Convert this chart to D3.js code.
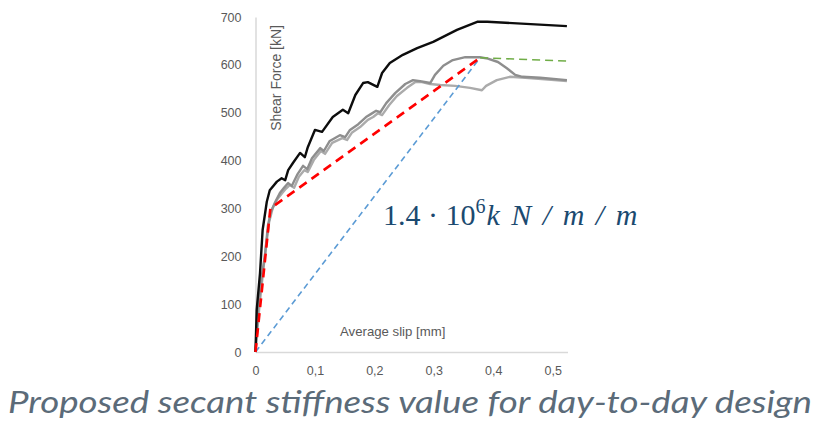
<!DOCTYPE html>
<html>
<head>
<meta charset="utf-8">
<script src="https://cdn.jsdelivr.net/npm/d3@7"></script>
<style>
  html, body { margin: 0; padding: 0; background: #fff; }
  svg { display: block; }
</style>
</head>
<body>
<svg id="chart" width="818" height="434"></svg>
<script>
// Average slip [mm] vs shear force [kN] for three push-out specimens
const specimenBlack = [
  [0, 0], [0.002, 88], [0.0076, 165], [0.012, 255], [0.019, 314], [0.024, 338],
  [0.036, 356], [0.044, 363], [0.050, 359], [0.055, 380], [0.063, 395], [0.075, 416],
  [0.083, 407], [0.088, 428], [0.100, 464], [0.112, 460], [0.130, 491], [0.147, 506],
  [0.156, 499], [0.168, 537], [0.181, 562], [0.189, 564], [0.205, 554], [0.213, 583],
  [0.226, 604], [0.248, 621], [0.272, 635], [0.299, 648], [0.339, 673], [0.373, 690],
  [0.390, 690], [0.524, 681]
];
const specimenGrayA = [
  [0, 0], [0.004, 88], [0.011, 161], [0.016, 203], [0.021, 265], [0.026, 293],
  [0.033, 313], [0.041, 332], [0.048, 343], [0.055, 353], [0.061, 347], [0.070, 370],
  [0.080, 389], [0.087, 382], [0.095, 405], [0.109, 426], [0.115, 420], [0.125, 441],
  [0.142, 453], [0.151, 449], [0.159, 464], [0.173, 476], [0.186, 491], [0.194, 497],
  [0.203, 504], [0.210, 501], [0.220, 520], [0.235, 541], [0.252, 560], [0.265, 568],
  [0.277, 566], [0.294, 562], [0.302, 579], [0.316, 598], [0.332, 610], [0.353, 616],
  [0.378, 616], [0.391, 613], [0.408, 606], [0.423, 593], [0.437, 579], [0.449, 575],
  [0.479, 573], [0.524, 568]
];
const specimenGrayB = [
  [0, 0], [0.006, 88], [0.013, 171], [0.018, 224], [0.023, 272], [0.029, 301],
  [0.036, 318], [0.045, 332], [0.051, 341], [0.058, 349], [0.065, 343], [0.073, 366],
  [0.082, 380], [0.088, 376], [0.098, 401], [0.110, 420], [0.117, 414], [0.129, 437],
  [0.146, 447], [0.154, 443], [0.162, 458], [0.176, 470], [0.189, 485], [0.198, 491],
  [0.206, 499], [0.213, 495], [0.225, 516], [0.238, 535], [0.255, 552], [0.269, 564],
  [0.280, 564], [0.294, 560], [0.311, 558], [0.336, 556], [0.361, 552], [0.381, 547],
  [0.388, 556], [0.406, 568], [0.428, 575], [0.454, 573], [0.487, 570], [0.524, 566]
];
// Idealised stiffness lines
const bilinearLine = [[0, 0], [0.025, 300], [0.378, 615]];
const secantLine = [[0, 0], [0.378, 615]];
const plateauLine = [[0.378, 615], [0.524, 608]];

const xTicks = [0, 0.1, 0.2, 0.3, 0.4, 0.5];
const yTicks = [0, 100, 200, 300, 400, 500, 600, 700];
const xTitle = "Average slip [mm]";
const yTitle = "Shear Force [kN]";
const stiffnessLabel = ["1.4 · 10", "6", "k N/m/m"];
const caption = "Proposed secant stiffness value for day-to-day design";

const svg = d3.select("#chart");
const x = d3.scaleLinear().domain([0, 0.525]).range([255.5, 567.5]);
const y = d3.scaleLinear().domain([0, 700]).range([352, 17]);

const axisColor = "#d9d9d9";
const tickColor = "#595959";

// Axes
const xAxis = svg.append("g").attr("transform", `translate(0,${y(0)})`)
  .call(d3.axisBottom(x).tickValues(xTicks).tickSize(0).tickPadding(14)
    .tickFormat(d => d === 0 ? "0" : d3.format(".1f")(d).replace(".", ",")));
const yAxis = svg.append("g").attr("transform", `translate(${x(0)},0)`)
  .call(d3.axisLeft(y).tickValues(yTicks).tickSize(0).tickPadding(14));
[xAxis, yAxis].forEach(g => {
  g.select(".domain").attr("stroke", axisColor).attr("stroke-width", 1.5);
  g.selectAll("text").attr("fill", tickColor)
    .style("font-family", "'Liberation Sans', Arial, sans-serif").style("font-size", "12.5px");
});

// Axis titles inside the plot
svg.append("text")
  .attr("x", 340).attr("y", 336)
  .attr("fill", tickColor)
  .style("font-family", "'Liberation Sans', Arial, sans-serif").style("font-size", "13.2px")
  .text(xTitle);
svg.append("text")
  .attr("transform", "translate(281,25) rotate(-90)")
  .attr("text-anchor", "end")
  .attr("fill", tickColor)
  .style("font-family", "'Liberation Sans', Arial, sans-serif").style("font-size", "14px")
  .text(yTitle);

const line = d3.line().x(d => x(d[0])).y(d => y(d[1]));

// Test curves
svg.append("path").datum(specimenGrayB).attr("d", line)
  .attr("fill", "none").attr("stroke", "#ababab").attr("stroke-width", 2.4).attr("stroke-linejoin", "round");
svg.append("path").datum(specimenGrayA).attr("d", line)
  .attr("fill", "none").attr("stroke", "#8e8e8e").attr("stroke-width", 2.4).attr("stroke-linejoin", "round");
svg.append("path").datum(specimenBlack).attr("d", line)
  .attr("fill", "none").attr("stroke", "#0d0d0d").attr("stroke-width", 2.4).attr("stroke-linejoin", "round");

// Stiffness idealisations
svg.append("path").datum(secantLine).attr("d", line)
  .attr("fill", "none").attr("stroke", "#5b9bd5").attr("stroke-width", 1.6).attr("stroke-dasharray", "6,4");
svg.append("path").datum(plateauLine).attr("d", line)
  .attr("fill", "none").attr("stroke", "#70ad47").attr("stroke-width", 1.6).attr("stroke-dasharray", "8,5");
svg.append("path").datum(bilinearLine).attr("d", line)
  .attr("fill", "none").attr("stroke", "#ff0000").attr("stroke-width", 2.6).attr("stroke-dasharray", "9,6");

// Stiffness value
const lbl = svg.append("text")
  .attr("x", 383).attr("y", 225)
  .attr("fill", "#1b4a70")
  .style("font-family", "'Liberation Serif', 'DejaVu Serif', serif").style("font-size", "30px");
lbl.append("tspan").text(stiffnessLabel[0]);
lbl.append("tspan").attr("dy", -12).style("font-size", "20px").text(stiffnessLabel[1]);
lbl.append("tspan").attr("dy", 12).attr("dx", 1).style("font-style", "italic")
  .style("word-spacing", "4px").attr("xml:space", "preserve")
  .text(stiffnessLabel[2].replace(/\//g, " / "));

// Caption
svg.append("text")
  .attr("x", 8).attr("y", 413)
  .attr("textLength", 804).attr("lengthAdjust", "spacingAndGlyphs")
  .attr("fill", "#5b6b79")
  .style("font-family", "Lato, 'Open Sans', sans-serif").style("font-style", "italic").style("font-size", "31px")
  .text(caption);
</script>
</body>
</html>
